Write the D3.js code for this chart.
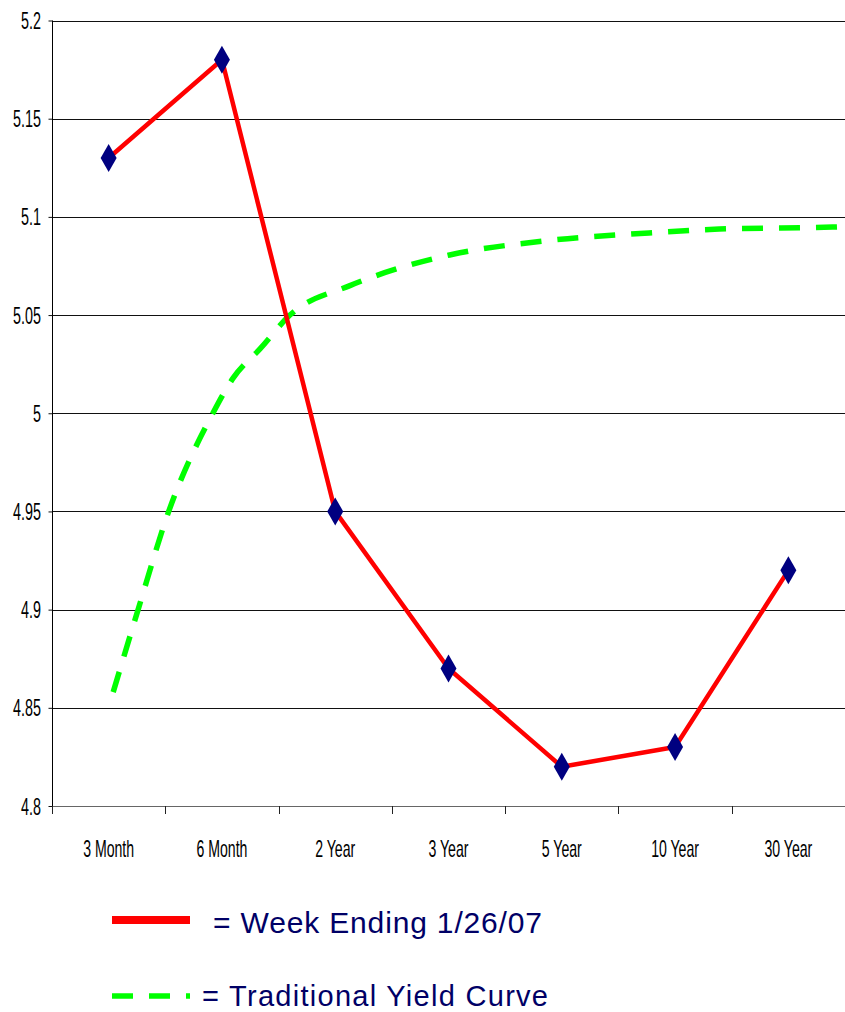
<!DOCTYPE html>
<html><head><meta charset="utf-8">
<script src="https://cdn.jsdelivr.net/npm/d3@7"></script>
<style>body{margin:0;background:#fff;overflow:hidden}</style></head>
<body><svg id="c" width="845" height="1012"></svg>
<script>
const categories = ["3 Month","6 Month","2 Year","3 Year","5 Year","10 Year","30 Year"];
const weekValues = [5.13,5.18,4.95,4.87,4.82,4.83,4.92];
const yTicks = [4.8,4.85,4.9,4.95,5,5.05,5.1,5.15,5.2];
const yTickLabels = ["4.8","4.85","4.9","4.95","5","5.05","5.1","5.15","5.2"];
// traditional curve: position in category units (0 = "3 Month" centre) and yield
const tradPos = [0.04,0.26,0.53,0.92,1.10,1.34,1.60,2.13,2.57,3.01,3.89,4.77,5.39,6.39,6.5];
const tradValues = [4.858,4.9,4.95,5.0,5.018,5.033,5.05,5.065,5.074,5.0806,5.088,5.0918,5.0938,5.0948,5.0951];
const legendLabels = ["= Week Ending 1/26/07","= Traditional Yield Curve"];

const svg = d3.select("#c");
const L = 52, R = 845, T = 20.5, B = 806;
const x = d3.scaleBand().domain(categories).range([L, R]).paddingInner(0).paddingOuter(0);
const xPos = d3.scaleLinear().domain([-0.5, categories.length - 0.5]).range([L, R]);
const y = d3.scaleLinear().domain([4.8, 5.2]).range([B, T]);
const narrow = "'Liberation Sans',Arial,sans-serif";

// gridlines
svg.append("g").selectAll("line").data(yTicks).join("line")
  .attr("x1", L).attr("x2", R)
  .attr("y1", d => Math.round(y(d)) + 0.5).attr("y2", d => Math.round(y(d)) + 0.5)
  .attr("stroke", d => d === 4.8 ? "#666" : "#111").attr("stroke-width", 1);

// y axis
const yAxis = d3.axisLeft(y).tickValues(yTicks).tickSize(4).tickFormat(() => "");
const gy = svg.append("g").attr("transform", `translate(${L + 0.5},0)`).call(yAxis);
gy.select(".domain").remove();
gy.selectAll(".tick line").attr("stroke", "#111");
svg.append("line").attr("x1", L + 0.5).attr("x2", L + 0.5).attr("y1", T).attr("y2", B + 8).attr("stroke", "#000");
svg.append("g").selectAll("g").data(yTicks).join("g")
  .attr("transform", d => `translate(41,${y(d)}) scale(0.82,1.35)`)
  .append("text").attr("text-anchor", "end").attr("dy", "0.36em")
  .style("font-family", narrow).style("font-size", "17.5px").attr("fill", "#000")
  .text((d,i) => yTickLabels[i]);

// x axis ticks at band edges
const edges = categories.map(c => x(c)).concat([R]);
svg.append("g").selectAll("line").data(edges).join("line")
  .attr("x1", d => Math.round(d) + 0.5).attr("x2", d => Math.round(d) + 0.5)
  .attr("y1", B).attr("y2", B + 8).attr("stroke", "#222");
svg.append("g").selectAll("g").data(categories).join("g")
  .attr("transform", d => `translate(${x(d) + x.bandwidth()/2},848) scale(0.83,1.4)`)
  .append("text").attr("text-anchor", "middle").attr("dy", "0.36em")
  .style("font-family", narrow).style("font-size", "17px").attr("fill", "#000")
  .text(d => d);

// traditional yield curve
const tradData = tradPos.map((p,i) => [p, tradValues[i]]);
svg.append("path").datum(tradData)
  .attr("d", d3.line().x(d => xPos(d[0])).y(d => y(d[1])).curve(d3.curveMonotoneX))
  .attr("fill", "none").attr("stroke", "#00ff00").attr("stroke-width", 5.5)
  .attr("stroke-dasharray", "21,16");

// week ending line
const weekData = categories.map((c,i) => [c, weekValues[i]]);
svg.append("path").datum(weekData)
  .attr("d", d3.line().x(d => x(d[0]) + x.bandwidth()/2).y(d => y(d[1])))
  .attr("fill", "none").attr("stroke", "#ff0000").attr("stroke-width", 4.5).attr("stroke-linejoin", "round");

// diamonds
svg.append("g").selectAll("path").data(weekData).join("path")
  .attr("transform", d => `translate(${x(d[0]) + x.bandwidth()/2},${y(d[1])})`)
  .attr("d", "M0,-14L8,0L0,14L-8,0Z").attr("fill", "#000080");

// legend
svg.append("line").attr("x1", 112).attr("x2", 190).attr("y1", 920).attr("y2", 920)
  .attr("stroke", "#ff0000").attr("stroke-width", 8);
svg.append("line").attr("x1", 112).attr("x2", 190).attr("y1", 996).attr("y2", 996)
  .attr("stroke", "#00ff00").attr("stroke-width", 5.5).attr("stroke-dasharray", "21,16");
svg.append("text").attr("x", 213).attr("y", 933).attr("fill", "#000066")
  .style("font-family", "'Liberation Sans',Arial,sans-serif").style("font-size", "30px")
  .attr("textLength", 329).text(legendLabels[0]);
svg.append("text").attr("x", 202).attr("y", 1006).attr("fill", "#000066")
  .style("font-family", "'Liberation Sans',Arial,sans-serif").style("font-size", "29px")
  .attr("textLength", 346).text(legendLabels[1]);
</script></body></html>
